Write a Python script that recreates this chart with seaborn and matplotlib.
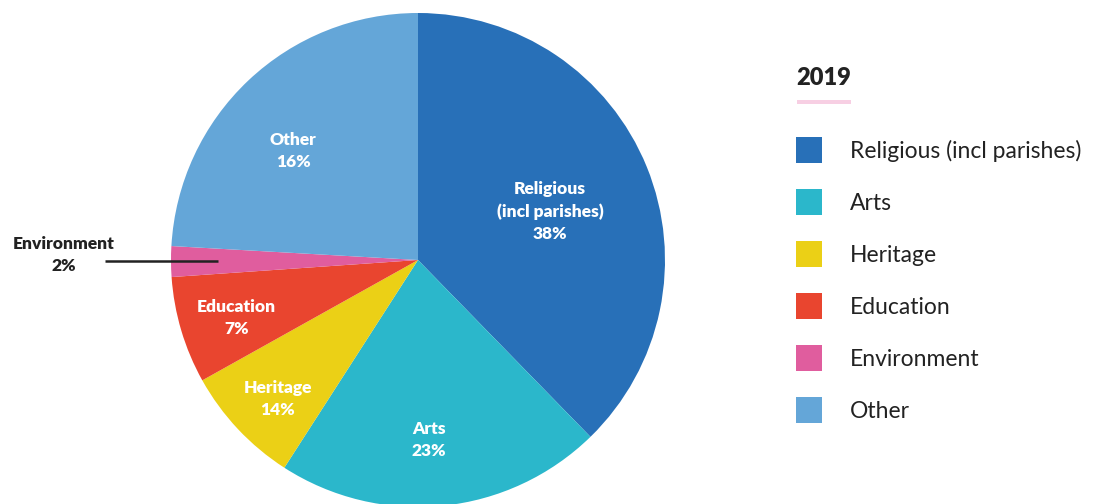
import matplotlib
matplotlib.use("Agg")
import matplotlib.pyplot as plt
import matplotlib.patches as mpatches
import numpy as np
import seaborn as sns

# ---- data ----
categories = ["Religious (incl parishes)", "Arts", "Heritage", "Education", "Environment", "Other"]
slice_labels = ["Religious\n(incl parishes)\n38%", "Arts\n23%", "Heritage\n14%", "Education\n7%", "Environment\n2%", "Other\n16%"]
# slice sizes as drawn in the picture (percent of the circle)
shares = [37.7, 21.4, 7.8, 7.0, 2.0, 24.1]
colors = ["#2870b8", "#2bb7cb", "#ebd016", "#e9452f", "#e05d9e", "#64a6d8"]
legend_title = "2019"

sns.set_theme(style="white")
plt.rcParams["font.family"] = ["Lato", "DejaVu Sans"]

W, H = 1104, 504
fig = plt.figure(figsize=(W / 100, H / 100), dpi=100)
fig.patch.set_facecolor("white")

cx, cy, R = 418, 260, 247
ax = fig.add_axes([(cx - R) / W, (H - cy - R) / H, 2 * R / W, 2 * R / H])
wedges, _ = ax.pie(shares, colors=colors, startangle=90, counterclock=False,
                   wedgeprops=dict(linewidth=0), radius=1)
for w in wedges:
    w.set_clip_on(False)
ax.set_xlim(-1, 1)
ax.set_ylim(-1, 1)
ax.set_aspect("equal")
ax.axis("off")

# label radius and angular shift (degrees, counter-clockwise) per slice
label_r = [0.57, 0.73, 0.80, 0.77, None, 0.67]
label_shift = [-2.0, -2.2, 1.6, 1.1, 0.0, 5.6]
for w, lab, r, sh in zip(wedges, slice_labels, label_r, label_shift):
    mid = np.deg2rad((w.theta1 + w.theta2) / 2 + sh)
    if r is None:
        # external label with leader line
        y = np.sin(mid) * 0.81
        x_in = np.cos(mid) * 0.81
        ax.plot([x_in, -1.267], [y, y], color="#222222", lw=1.8, clip_on=False,
                solid_capstyle="butt")
        ax.text(-1.433, y + 0.025, lab, ha="center", va="center", color="#222222",
                fontsize=12.5, fontweight="heavy", linespacing=1.45)
    else:
        ax.text(r * np.cos(mid), r * np.sin(mid), lab, ha="center", va="center",
                color="white", fontsize=12.5, fontweight="heavy", linespacing=1.45)

# ---- legend ----
def fx(px):
    return px / W

def fy(py):
    return 1 - py / H

fig.text(fx(796), fy(78), legend_title, ha="left", va="center", fontsize=17,
         fontweight="heavy", color="#222222")
fig.add_artist(mpatches.Rectangle((fx(797), fy(104)), 54 / W, 4 / H,
                                  transform=fig.transFigure, color="#f7cfe3", lw=0))
row0, step = 150, 52
for i, (cat, col) in enumerate(zip(categories, colors)):
    yc = row0 + i * step
    fig.add_artist(mpatches.Rectangle((fx(796), fy(yc + 13)), 26 / W, 26 / H,
                                      transform=fig.transFigure, color=col, lw=0))
    fig.text(fx(850), fy(yc + 1), cat, ha="left", va="center", fontsize=16.5,
             color="#222222")

fig.savefig("out.png", dpi=100)
